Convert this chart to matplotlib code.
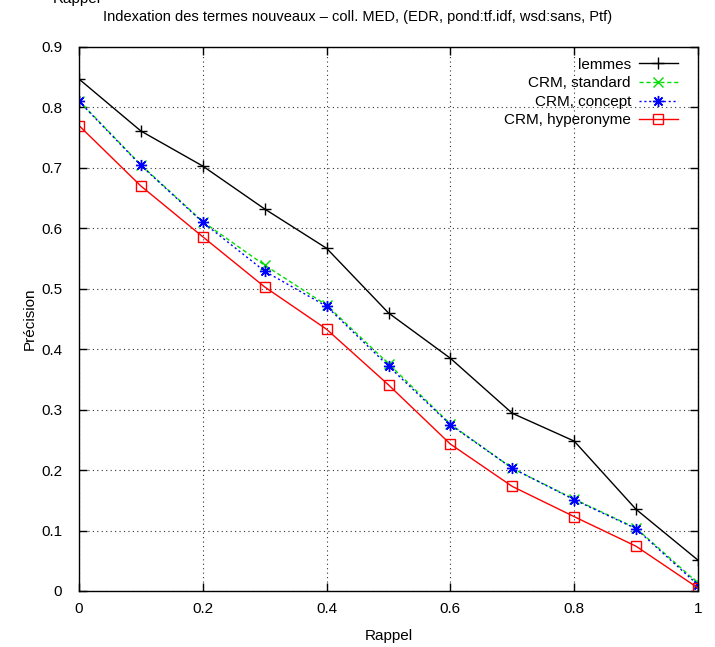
import matplotlib
matplotlib.use("Agg")
import matplotlib.pyplot as plt
from matplotlib import font_manager

fams = {f.name for f in font_manager.fontManager.ttflist}
FONT = ["Liberation Sans Narrow", "Liberation Sans", "DejaVu Sans"]
FONT = [f for f in FONT if f in fams] + ["DejaVu Sans"]
plt.rcParams["font.family"] = FONT

rappel = [0.0, 0.1, 0.2, 0.3, 0.4, 0.5, 0.6, 0.7, 0.8, 0.9, 1.0]
lemmes = [0.847, 0.761, 0.703, 0.632, 0.567, 0.460, 0.385, 0.294, 0.248, 0.135, 0.051]
crm_standard = [0.811, 0.705, 0.611, 0.539, 0.473, 0.376, 0.276, 0.203, 0.152, 0.104, 0.013]
crm_concept = [0.810, 0.704, 0.610, 0.529, 0.471, 0.372, 0.275, 0.203, 0.151, 0.103, 0.010]
crm_hyperonyme = [0.770, 0.670, 0.586, 0.503, 0.433, 0.341, 0.243, 0.173, 0.123, 0.074, 0.005]

xticks = [0, 0.2, 0.4, 0.6, 0.8, 1]
xticklabels = ["0", "0.2", "0.4", "0.6", "0.8", "1"]
yticks = [0, 0.1, 0.2, 0.3, 0.4, 0.5, 0.6, 0.7, 0.8, 0.9]
yticklabels = ["0", "0.1", "0.2", "0.3", "0.4", "0.5", "0.6", "0.7", "0.8", "0.9"]

fig = plt.figure(figsize=(7.15, 6.47), dpi=100)
ax = fig.add_axes([79 / 715, 56 / 647, 619 / 715, 544 / 647])

ax.plot(rappel, lemmes, color="black", lw=1, marker="+", ms=9, mew=1, label="lemmes")
ax.plot(rappel, crm_standard, color="#00dd00", lw=1, ls=(0, (3, 2)), marker="x", ms=7, mew=1,
        label="CRM, standard")
ax.plot(rappel, crm_concept, color="#0000ff", lw=1, ls=(0, (1.5, 2)), marker=(8, 2, 0), ms=8, mew=1,
        label="CRM, concept")
ax.plot(rappel, crm_hyperonyme, color="#ff0000", lw=1, marker="s", ms=7, mew=1, mfc="none",
        label="CRM, hyperonyme")

ax.set_xlim(0, 1)
ax.set_ylim(0, 0.9)
ax.set_xticks(xticks)
ax.set_xticklabels(xticklabels)
ax.set_yticks(yticks)
ax.set_yticklabels(yticklabels)
ax.tick_params(direction="in", length=6, width=1, top=True, right=True, labelsize=11)
ax.tick_params(axis="x", pad=8)
ax.tick_params(axis="y", pad=12)
ax.grid(True, color="#333333", ls=(0, (1, 3)), lw=0.8)
for s in ax.spines.values():
    s.set_linewidth(1)

ax.set_xlabel("Rappel", fontsize=11, labelpad=9)
ax.set_ylabel("Précision", fontsize=11, labelpad=3)
fig.text(0.5, 1 - 17 / 647, "Indexation des termes nouveaux \u2013 coll. MED, (EDR, pond:tf.idf, wsd:sans, Ptf)",
         ha="center", va="center", fontsize=10.5)
fig.text(53 / 715, 1 + 1 / 647, "Rappel", ha="left", va="center", fontsize=11)

ax.legend(loc="upper right", bbox_to_anchor=(1 - 9 / 619, 1.0), frameon=False, markerfirst=False,
          fontsize=11, handlelength=2.6, handletextpad=0.5, labelspacing=0.3, borderaxespad=0.3)

fig.savefig("out.png", dpi=100)
